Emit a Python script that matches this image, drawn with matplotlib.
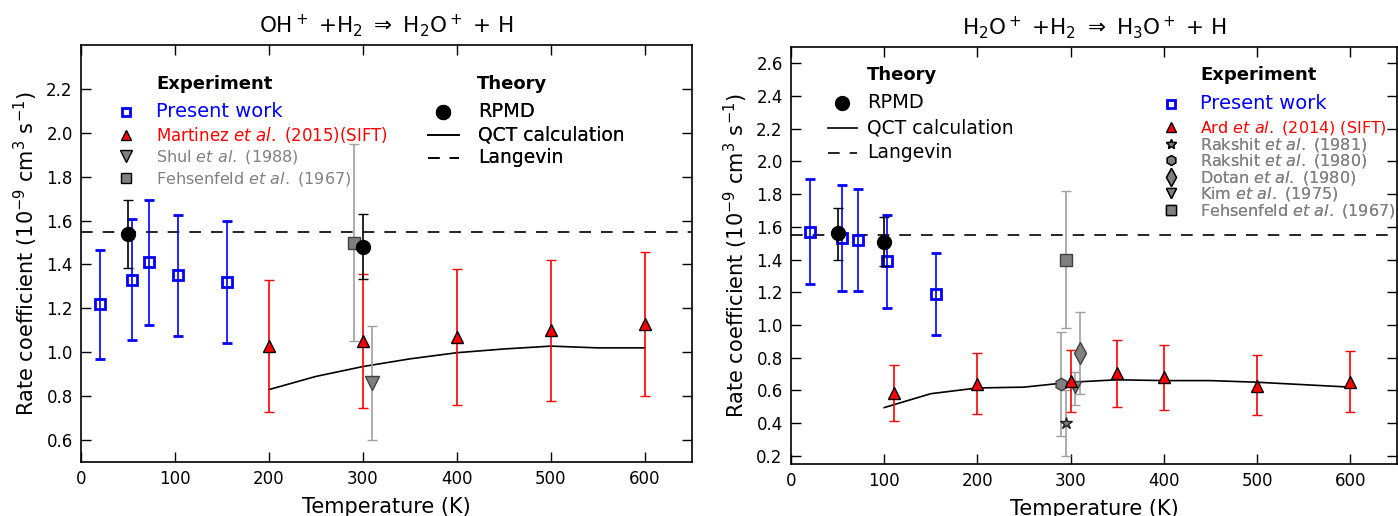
import matplotlib
matplotlib.use("Agg")
import matplotlib.pyplot as plt
import numpy as np
from matplotlib.lines import Line2D

plt.rcParams["font.family"] = ["DejaVu Sans"]
plt.rcParams["mathtext.fontset"] = "dejavusans"

# ---- OH+ + H2 -> H2O+ + H ----
oh_present_T = [20, 54, 72, 103, 155]
oh_present_k = [1.22, 1.33, 1.41, 1.35, 1.32]
oh_present_lo = [0.97, 1.055, 1.125, 1.075, 1.04]
oh_present_hi = [1.465, 1.605, 1.695, 1.625, 1.60]

oh_rpmd_T = [50, 300]
oh_rpmd_k = [1.54, 1.48]
oh_rpmd_lo = [1.385, 1.335]
oh_rpmd_hi = [1.695, 1.63]

oh_sift_T = [200, 300, 400, 500, 600]
oh_sift_k = [1.03, 1.05, 1.07, 1.10, 1.13]
oh_sift_lo = [0.73, 0.745, 0.76, 0.78, 0.80]
oh_sift_hi = [1.33, 1.355, 1.38, 1.42, 1.455]

oh_shul_T = [310]
oh_shul_k = [0.86]
oh_shul_lo = [0.60]
oh_shul_hi = [1.12]

oh_fehs_T = [290]
oh_fehs_k = [1.50]
oh_fehs_lo = [1.05]
oh_fehs_hi = [1.95]

oh_qct_T = [200, 250, 300, 350, 400, 450, 500, 550, 600]
oh_qct_k = [0.83, 0.89, 0.935, 0.97, 0.998, 1.015, 1.028, 1.02, 1.02]

# ---- H2O+ + H2 -> H3O+ + H ----
h2o_present_T = [20, 55, 72, 103, 155]
h2o_present_k = [1.57, 1.53, 1.52, 1.39, 1.19]
h2o_present_lo = [1.25, 1.205, 1.21, 1.105, 0.94]
h2o_present_hi = [1.89, 1.855, 1.83, 1.67, 1.44]

h2o_rpmd_T = [50, 100]
h2o_rpmd_k = [1.56, 1.51]
h2o_rpmd_lo = [1.40, 1.36]
h2o_rpmd_hi = [1.715, 1.66]

h2o_sift_T = [110, 200, 300, 350, 400, 500, 600]
h2o_sift_k = [0.585, 0.64, 0.66, 0.705, 0.68, 0.63, 0.65]
h2o_sift_lo = [0.415, 0.455, 0.47, 0.50, 0.48, 0.45, 0.465]
h2o_sift_hi = [0.755, 0.83, 0.85, 0.91, 0.875, 0.815, 0.84]

h2o_rak81_T = [295]
h2o_rak81_k = [0.40]
h2o_rak81_lo = [0.20]
h2o_rak81_hi = [0.60]

h2o_rak80_T = [290]
h2o_rak80_k = [0.64]
h2o_rak80_lo = [0.32]
h2o_rak80_hi = [0.96]

h2o_dotan_T = [310]
h2o_dotan_k = [0.83]
h2o_dotan_lo = [0.58]
h2o_dotan_hi = [1.08]

h2o_kim_T = [305]
h2o_kim_k = [0.62]
h2o_kim_lo = [0.51]
h2o_kim_hi = [0.71]

h2o_fehs_T = [295]
h2o_fehs_k = [1.40]
h2o_fehs_lo = [0.98]
h2o_fehs_hi = [1.82]

h2o_qct_T = [100, 150, 200, 250, 300, 350, 400, 450, 500, 550, 600]
h2o_qct_k = [0.495, 0.58, 0.615, 0.62, 0.65, 0.665, 0.66, 0.66, 0.65, 0.635, 0.62]

langevin_k = 1.55

BLUE = "#0000ff"
RED = "#ff0000"
GRAY = "#808080"
LIGHT = "#a0a0a0"
GRAYTXT = "#808080"


def draw_points(ax, T, k, lo, hi, marker, ms, mfc, mec, ecolor, mew=1.0, z=3):
    k = np.asarray(k, dtype=float)
    yerr = [k - np.asarray(lo), np.asarray(hi) - k]
    ax.errorbar(T, k, yerr=yerr, fmt=marker, ms=ms, mfc=mfc, mec=mec, mew=mew,
                ecolor=ecolor, elinewidth=1.2, capsize=3.5, capthick=1.5, zorder=z)


def handle(marker=None, ls="none", ms=7, mfc="none", mec="black", mew=1.0, color="black", dashes=None):
    h = Line2D([], [], marker=marker, linestyle=ls, ms=ms, mfc=mfc, mec=mec, mew=mew, color=color, lw=1.2)
    if dashes is not None:
        h.set_dashes(dashes)
    return h


def add_legend(ax, handles, labels, colors, sizes, anchor, hl, htp, ls):
    leg = ax.legend(handles, labels, loc="upper left", bbox_to_anchor=anchor, frameon=False,
                    handlelength=hl, handletextpad=htp, labelspacing=ls, borderpad=0,
                    borderaxespad=0, fontsize=11, numpoints=1)
    for t, c, s in zip(leg.get_texts(), colors, sizes):
        t.set_color(c)
        t.set_fontsize(s)
    ax.add_artist(leg)
    return leg


def header(ax, x, y, text):
    ax.text(x, y, text, transform=ax.transAxes, fontsize=13, fontweight="bold",
            ha="left", va="baseline")


def style_axes(ax, ylim, yticks, ypad):
    ax.set_xlim(0, 650)
    ax.set_ylim(*ylim)
    ax.set_xticks(np.arange(0, 601, 100))
    ax.set_yticks(yticks)
    ax.set_yticklabels([f"{v:.1f}" for v in yticks])
    ax.tick_params(direction="in", top=True, right=True, length=7, width=1, labelsize=12, pad=6)
    for sp in ax.spines.values():
        sp.set_linewidth(1.2)
    ax.set_xlabel("Temperature (K)", fontsize=15, labelpad=6)
    ax.set_ylabel(r"Rate coefficient (10$^{-9}$ cm$^3$ s$^{-1}$)", fontsize=15, labelpad=ypad)


fig = plt.figure(figsize=(13.98, 5.16), dpi=100)
ax1 = fig.add_axes([81 / 1398, 54 / 516, 611 / 1398, 417 / 516])
ax2 = fig.add_axes([791 / 1398, 52 / 516, 606 / 1398, 417 / 516])

# left panel
ax1.axhline(langevin_k, color="black", lw=1.2, dashes=(7, 6), zorder=1)
ax1.plot(oh_qct_T, oh_qct_k, color="black", lw=1.2, zorder=2)
draw_points(ax1, oh_fehs_T, oh_fehs_k, oh_fehs_lo, oh_fehs_hi, "s", 8, GRAY, "#404040", LIGHT)
draw_points(ax1, oh_shul_T, oh_shul_k, oh_shul_lo, oh_shul_hi, "v", 10, GRAY, "#404040", LIGHT)
draw_points(ax1, oh_sift_T, oh_sift_k, oh_sift_lo, oh_sift_hi, "^", 8, RED, "black", RED)
draw_points(ax1, oh_present_T, oh_present_k, oh_present_lo, oh_present_hi, "s", 7, "none", BLUE, BLUE, mew=2)
draw_points(ax1, oh_rpmd_T, oh_rpmd_k, oh_rpmd_lo, oh_rpmd_hi, "o", 10, "black", "black", "black", z=4)
style_axes(ax1, (0.5, 2.4), np.arange(0.6, 2.21, 0.2), 4.5)
ax1.set_title(r"OH$^+$ +H$_2$ $\Rightarrow$ H$_2$O$^+$ + H", fontsize=15.5, pad=9)

header(ax1, 0.1227, 0.8945, "Experiment")
add_legend(ax1,
           [handle("s", ms=6, mec=BLUE, mew=2), handle("^", ms=7, mfc=RED),
            handle("v", ms=8, mfc=GRAY), handle("s", ms=7, mfc=GRAY)],
           ["Present work", r"Martinez $\mathit{et\ al.}$ (2015)(SIFT)",
            r"Shul $\mathit{et\ al.}$ (1988)", r"Fehsenfeld $\mathit{et\ al.}$ (1967)"],
           [BLUE, RED, GRAYTXT, GRAYTXT], [14, 12, 11.5, 11.5],
           (0.055, 0.863), 1.5, 1.2, 0.23)
header(ax1, 0.648, 0.8945, "Theory")
add_legend(ax1,
           [handle("o", ms=10, mfc="black"), handle(ls="-"), handle(ls="--", dashes=(7, 6))],
           ["RPMD", "QCT calculation", "Langevin"],
           ["black", "black", "black"], [14, 13.5, 13.5],
           (0.568, 0.863), 2.0, 1.25, 0.26)

# right panel
ax2.axhline(langevin_k, color="black", lw=1.2, dashes=(7, 6), zorder=1)
ax2.plot(h2o_qct_T, h2o_qct_k, color="black", lw=1.2, zorder=2)
draw_points(ax2, h2o_fehs_T, h2o_fehs_k, h2o_fehs_lo, h2o_fehs_hi, "s", 8, GRAY, "#404040", LIGHT)
draw_points(ax2, h2o_rak80_T, h2o_rak80_k, h2o_rak80_lo, h2o_rak80_hi, "h", 9, GRAY, "#404040", LIGHT)
draw_points(ax2, h2o_rak81_T, h2o_rak81_k, h2o_rak81_lo, h2o_rak81_hi, "*", 9, GRAY, "#202020", LIGHT)
draw_points(ax2, h2o_kim_T, h2o_kim_k, h2o_kim_lo, h2o_kim_hi, "v", 9, GRAY, "#404040", LIGHT)
draw_points(ax2, h2o_dotan_T, h2o_dotan_k, h2o_dotan_lo, h2o_dotan_hi, "d", 11, GRAY, "#404040", LIGHT)
draw_points(ax2, h2o_sift_T, h2o_sift_k, h2o_sift_lo, h2o_sift_hi, "^", 8, RED, "black", RED)
draw_points(ax2, h2o_present_T, h2o_present_k, h2o_present_lo, h2o_present_hi, "s", 7, "none", BLUE, BLUE, mew=2)
draw_points(ax2, h2o_rpmd_T, h2o_rpmd_k, h2o_rpmd_lo, h2o_rpmd_hi, "o", 10, "black", "black", "black", z=4)
style_axes(ax2, (0.15, 2.7), np.arange(0.2, 2.61, 0.2), 4.5)
ax2.set_title(r"H$_2$O$^+$ +H$_2$ $\Rightarrow$ H$_3$O$^+$ + H", fontsize=15.5, pad=9)

header(ax2, 0.1254, 0.922, "Theory")
add_legend(ax2,
           [handle("o", ms=10, mfc="black"), handle(ls="-"), handle(ls="--", dashes=(7, 6))],
           ["RPMD", "QCT calculation", "Langevin"],
           ["black", "black", "black"], [14, 13.5, 13.5],
           (0.061, 0.889), 1.9, 0.65, 0.39)
header(ax2, 0.675, 0.922, "Experiment")
add_legend(ax2,
           [handle("s", ms=6, mec=BLUE, mew=2), handle("^", ms=7, mfc=RED)],
           ["Present work", r"Ard $\mathit{et\ al.}$ (2014) (SIFT)"],
           [BLUE, RED], [14, 11.5],
           (0.608, 0.887), 1.5, 1.15, 0.39)
add_legend(ax2,
           [handle("*", ms=7, mfc=GRAY), handle("h", ms=7, mfc=GRAY), handle("d", ms=9, mfc=GRAY),
            handle("v", ms=7, mfc=GRAY), handle("s", ms=7, mfc=GRAY)],
           [r"Rakshit $\mathit{et\ al.}$ (1981)", r"Rakshit $\mathit{et\ al.}$ (1980)",
            r"Dotan $\mathit{et\ al.}$ (1980)", r"Kim $\mathit{et\ al.}$ (1975)",
            r"Fehsenfeld $\mathit{et\ al.}$ (1967)"],
           [GRAYTXT] * 5, [11.5] * 5,
           (0.608, 0.787), 1.5, 1.15, -0.1)

fig.savefig("out.png", dpi=100)
